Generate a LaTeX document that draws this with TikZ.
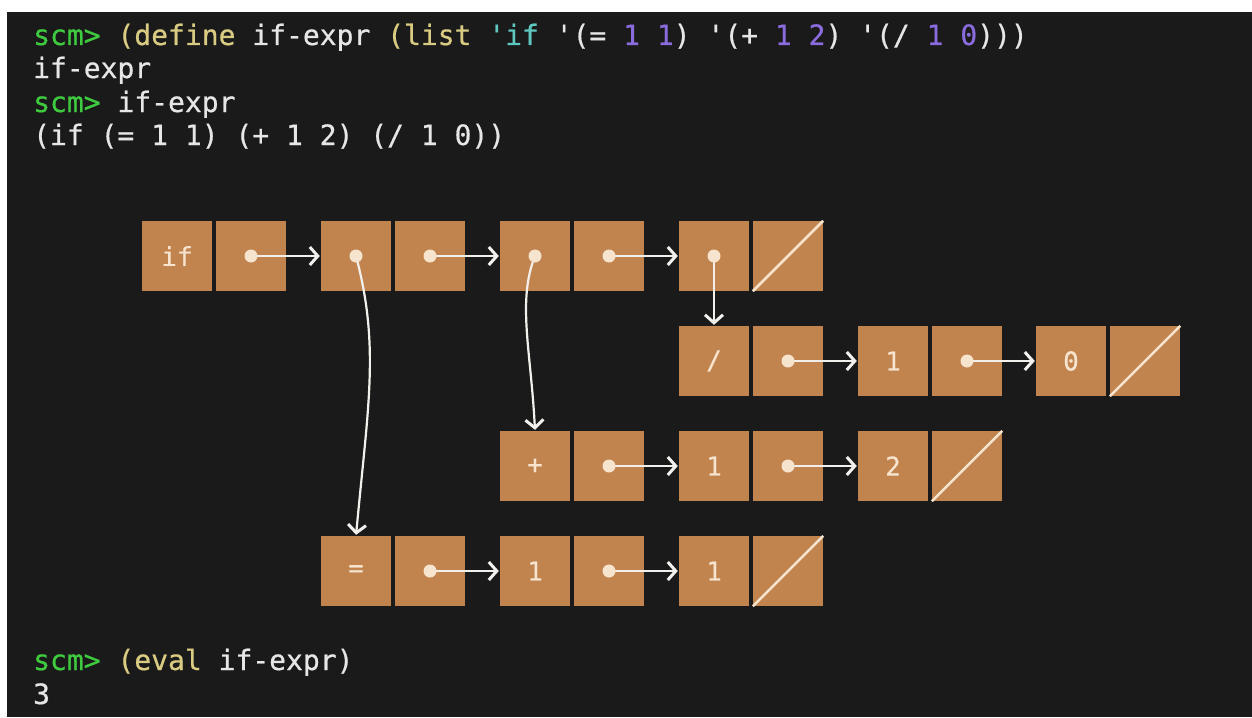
\documentclass[tikz,border=0pt]{standalone}
\usepackage{fontspec}
\newfontfamily\termfont[FakeBold=0.6]{DejaVu Sans Mono}
\newfontfamily\cellfont[FakeBold=0.3]{DejaVu Sans Mono}
\usetikzlibrary{arrows.meta}
\definecolor{term}{HTML}{1A1A1A}
\definecolor{prompt}{HTML}{3FCB3F}
\definecolor{kw}{HTML}{D9CB82}
\definecolor{sym}{HTML}{5EC8C0}
\definecolor{num}{HTML}{8B6CDF}
\definecolor{txt}{HTML}{E6E6E6}
\definecolor{cellfill}{HTML}{C2844F}
\definecolor{ink}{HTML}{F6E4CF}
\definecolor{wire}{HTML}{F2F0EC}

\newcommand{\Prm}{\textcolor{prompt}{scm>}}
\newcommand{\Kw}[1]{\textcolor{kw}{#1}}
\newcommand{\Nm}[1]{\textcolor{num}{#1}}
\newcommand{\Sy}[1]{\textcolor{sym}{#1}}
\newcommand{\Qt}{\char39}

% a cons pair: car cell (#1-a) and cdr cell (#1-d), top-left corner at (#2,#3)
\newcommand{\consbox}[4]{%
  \node[cell] (#1-a) at (#2+35,#3+35) {#4};
  \node[cell] (#1-d) at (#2+109,#3+35) {};
}

\begin{document}
\begin{tikzpicture}[x=1pt,y=-1pt,
  code/.style={anchor=base west,inner sep=0pt,text=txt,
    font=\termfont\fontsize{28}{33}\selectfont},
  cell/.style={fill=cellfill,minimum size=70pt,inner sep=0pt,text=ink,
    font=\cellfont\fontsize{26}{30}\selectfont},
  ptr/.style={draw=wire,line width=2.2pt,shorten >=1pt,
    -{Straight Barb[length=8pt,width=18pt,line width=3pt]}},
  nil/.style={draw=ink,line width=2.5pt}]
\useasboundingbox (0,0) rectangle (1252,717);
\fill[white] (0,0) rectangle (1252,717);
\fill[term] (7,12) rectangle (1252,717);

% terminal session
\node[code] (l1) at (33,45) {\Prm{} \Kw{(define} if-expr \Kw{(list} \Sy{\Qt if} \Qt(= \Nm{1} \Nm{1}) \Qt(+ \Nm{1} \Nm{2}) \Qt(/ \Nm{1} \Nm{0})))};
\node[code] (l2) at (33,78) {if-expr};
\node[code] (l3) at (33,112) {\Prm{} if-expr};
\node[code] (l4) at (33,145) {(if (= 1 1) (+ 1 2) (/ 1 0))};
\node[code] (l5) at (33,670) {\Prm{} \Kw{(eval} if-expr)};
\node[code] (l6) at (33,704) {3};

% box-and-pointer cells
\consbox{p1}{142}{221}{if}
\consbox{p2}{321}{221}{}
\consbox{p3}{500}{221}{}
\consbox{p4}{679}{221}{}
\consbox{q1}{679}{326}{/}
\consbox{q2}{858}{326}{1}
\consbox{q3}{1036}{326}{0}
\consbox{r1}{500}{431}{+}
\consbox{r2}{679}{431}{1}
\consbox{r3}{858}{431}{2}
\consbox{s1}{321}{536}{=}
\consbox{s2}{500}{536}{1}
\consbox{s3}{679}{536}{1}

% empty list markers
\foreach \n in {p4,q3,r3,s3}
  \draw[nil] (\n-d.south west) -- (\n-d.north east);

% cdr pointers
\foreach \a/\b in {p1/p2,p2/p3,p3/p4,q1/q2,q2/q3,r1/r2,r2/r3,s1/s2,s2/s3}
  \draw[ptr] (\a-d.center) -- (\b-a.west);

% car pointers
\draw[ptr] (p2-a.center) .. controls +(24,90) and +(12,-130) .. (s1-a.north);
\draw[ptr] (p3-a.center) .. controls +(-18,45) and +(-4,-80) .. (r1-a.north);
\draw[ptr] (p4-a.center) -- (q1-a.north);

% pointer origins
\foreach \n in {p1-d,p2-a,p2-d,p3-a,p3-d,p4-a,q1-d,q2-d,r1-d,r2-d,s1-d,s2-d}
  \fill[ink] (\n.center) circle (6.5pt);
\end{tikzpicture}
\end{document}
